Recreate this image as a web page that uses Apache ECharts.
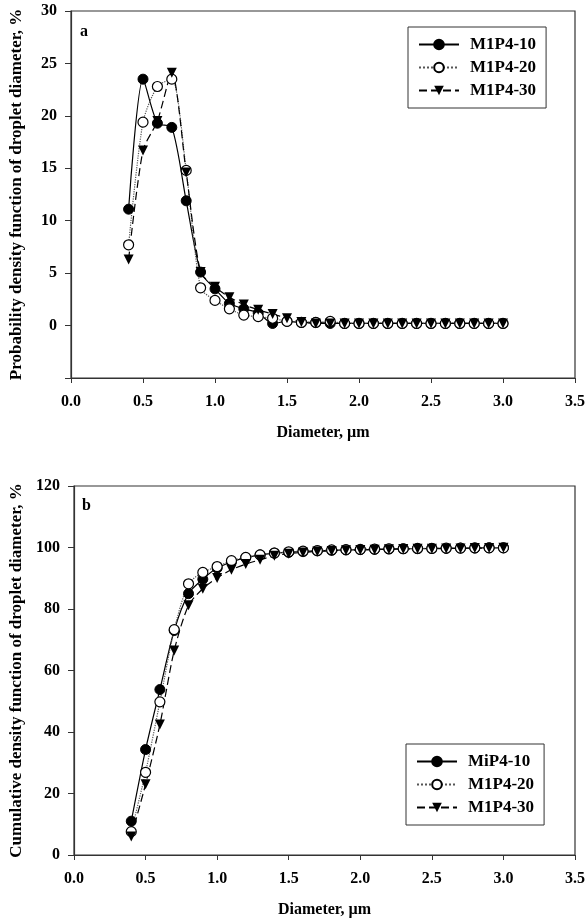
<!DOCTYPE html>
<html>
<head>
<meta charset="utf-8">
<script src="https://cdn.jsdelivr.net/npm/echarts@6/dist/echarts.min.js"></script>
<style>
html,body{margin:0;padding:0;background:#fff;}
#chart{width:588px;height:919px;}
</style>
</head>
<body>
<div id="chart"></div>
<script>
// ---- data ----
const diameters = [0.4,0.5,0.6,0.7,0.8,0.9,1.0,1.1,1.2,1.3,1.4,1.5,1.6,1.7,1.8,1.9,2.0,2.1,2.2,2.3,2.4,2.5,2.6,2.7,2.8,2.9,3.0];
const seriesNamesA = ['M1P4-10','M1P4-20','M1P4-30'];
const seriesNamesB = ['MiP4-10','M1P4-20','M1P4-30'];
const pdf10 = [11.1,23.5,19.3,18.9,11.9,5.1,3.5,2.1,1.6,1.2,0.2,0.4,0.3,0.3,0.2,0.2,0.2,0.2,0.2,0.2,0.2,0.2,0.2,0.2,0.2,0.2,0.2];
const pdf20 = [7.7,19.4,22.8,23.5,14.8,3.6,2.4,1.6,1.0,0.85,0.7,0.4,0.3,0.3,0.4,0.2,0.2,0.2,0.2,0.2,0.2,0.2,0.2,0.2,0.2,0.2,0.2];
const pdf30 = [6.3,16.7,19.5,24.1,14.6,5.1,3.7,2.7,2.0,1.5,1.1,0.7,0.35,0.2,0.2,0.2,0.2,0.2,0.2,0.2,0.2,0.2,0.2,0.2,0.2,0.2,0.2];
const cdf10 = [11.0,34.3,53.8,73.0,85.0,89.7,93.3,95.3,96.7,97.6,98.2,98.4,98.7,98.9,99.1,99.2,99.3,99.4,99.5,99.6,99.6,99.7,99.7,99.8,99.8,99.9,99.9];
const cdf20 = [7.6,26.9,49.8,73.3,88.2,91.9,93.8,95.7,96.8,97.6,98.2,98.6,98.8,99.0,99.2,99.3,99.4,99.5,99.6,99.6,99.7,99.7,99.8,99.8,99.9,99.9,99.9];
const cdf30 = [6.0,23.0,42.4,66.5,81.2,86.6,90.1,92.8,94.6,96.0,97.3,98.0,98.4,98.7,98.9,99.1,99.2,99.3,99.4,99.5,99.6,99.6,99.7,99.7,99.8,99.8,99.9];
const xTicks = {min:0, max:3.5, interval:0.5};
const yTicksA = {min:-5, max:30, interval:5};
const yTicksB = {min:0, max:120, interval:20};
const yTitleA = 'Probability density function of droplet diameter, %';
const yTitleB = 'Cumulative density function of droplet diameter, %';
const xTitle = 'Diameter, \u00b5m';

// ---- styling ----
const FONT = '"Liberation Serif", "Times New Roman", serif';
const tri = 'path://M0,0 L10,0 L5,9 Z';
const pair = (ys) => diameters.map((x,i)=>[x, ys[i]]);

const styles = [
  {symbol:'circle', itemStyle:{color:'#000', borderColor:'#000', borderWidth:1}, lineStyle:{color:'#000', width:1.2, type:'solid'}},
  {symbol:'circle', itemStyle:{color:'#fff', borderColor:'#000', borderWidth:1.2}, lineStyle:{color:'#555', width:1.2, type:'dotted'}},
  {symbol:tri, itemStyle:{color:'#000', borderColor:'#000', borderWidth:0}, lineStyle:{color:'#000', width:1.2, type:[8,4]}}
];

function mkSeries(name, data, idx, s){
  return {
    name: name, type:'line', xAxisIndex: idx, yAxisIndex: idx,
    data: pair(data), smooth: 0.25,
    symbol: s.symbol, symbolSize: 10, showSymbol: true,
    itemStyle: s.itemStyle, lineStyle: s.lineStyle,
    emphasis: {disabled:true}, animation:false
  };
}

function xAx(idx){
  return {
    type:'value', gridIndex: idx, min:xTicks.min, max:xTicks.max, interval:xTicks.interval,
    name: xTitle, nameLocation:'middle', nameGap: 47,
    nameTextStyle:{fontFamily:FONT, fontWeight:'bold', fontSize:16, color:'#000'},
    axisLine:{show:true, onZero:false, lineStyle:{color:'#333', width:1.2}},
    axisTick:{show:true, inside:false, length:5, lineStyle:{color:'#333'}},
    axisLabel:{fontFamily:FONT, fontWeight:'bold', fontSize:16, color:'#000', margin:16, formatter:v=>v.toFixed(1)},
    splitLine:{show:false}
  };
}
function yAx(idx, t, title, gap){
  return {
    type:'value', gridIndex: idx, min:t.min, max:t.max, interval:t.interval,
    name: title, nameLocation:'middle', nameRotate:90, nameGap: gap,
    nameTextStyle:{fontFamily:FONT, fontWeight:'bold', fontSize:17, color:'#000'},
    axisLine:{show:true, onZero:false, lineStyle:{color:'#333', width:1.2}},
    axisTick:{show:true, inside:false, length:6, lineStyle:{color:'#333'}},
    axisLabel:{fontFamily:FONT, fontWeight:'bold', fontSize:16, color:'#000', margin:14,
      formatter: v => (v === t.min && t.min < 0) ? '' : String(v)},
    splitLine:{show:false}
  };
}
function legendAt(left, top, names){
  return {
    orient:'vertical', left:left, top:top,
    data: names,
    itemWidth:40, itemHeight:12, itemGap:6,
    padding:[9,10,9,10],
    borderColor:'#333', borderWidth:1, backgroundColor:'#fff',
    textStyle:{fontFamily:FONT, fontWeight:'bold', fontSize:17, lineHeight:16, color:'#000', padding:[0,0,0,6]},
    selectedMode:false
  };
}

const chart = echarts.init(document.getElementById('chart'), null, {renderer:'canvas'});
chart.setOption({
  backgroundColor:'#fff',
  animation:false,
  grid:[
    {left:68, top:11, right:13, height:367, show:true, borderColor:'#333', borderWidth:1.2, backgroundColor:'transparent'},
    {left:72, top:486, right:6, height:370, show:true, borderColor:'#333', borderWidth:1.2, backgroundColor:'transparent'}
  ],
  xAxis:[xAx(0), xAx(1)],
  yAxis:[yAx(0, yTicksA, yTitleA, 46), yAx(1, yTicksB, yTitleB, 49)],
  legend:[
    legendAt(408, 27, seriesNamesA),
    legendAt(406, 744, seriesNamesB)
  ],
  series:[
    mkSeries(seriesNamesA[0], pdf10, 0, styles[0]),
    mkSeries(seriesNamesA[1], pdf20, 0, styles[1]),
    mkSeries(seriesNamesA[2], pdf30, 0, styles[2]),
    mkSeries(seriesNamesB[0], cdf10, 1, styles[0]),
    mkSeries(seriesNamesB[1], cdf20, 1, styles[1]),
    mkSeries(seriesNamesB[2], cdf30, 1, styles[2])
  ],
  graphic:[
    {type:'text', left:80, top:24, style:{text:'a', font:'bold 16px ' + FONT, fill:'#000'}},
    {type:'text', left:82, top:498, style:{text:'b', font:'bold 16px ' + FONT, fill:'#000'}}
  ]
});
</script>
</body>
</html>
